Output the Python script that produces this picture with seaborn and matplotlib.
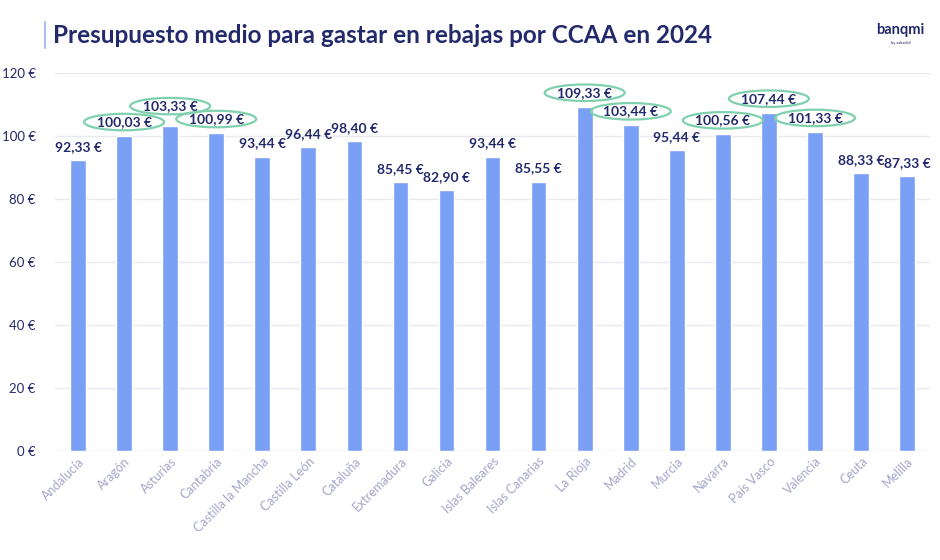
import matplotlib
matplotlib.use("Agg")
import matplotlib.pyplot as plt
from matplotlib.patches import Ellipse
from matplotlib.transforms import ScaledTranslation
import seaborn as sns
import pandas as pd

regions = ["Andalucía", "Aragón", "Asturias", "Cantabria", "Castilla la Mancha",
           "Castilla León", "Cataluña", "Extremadura", "Galicia", "Islas Baleares",
           "Islas Canarias", "La Rioja", "Madrid", "Murcia", "Navarra",
           "País Vasco", "Valencia", "Ceuta", "Melilla"]
budget = [92.33, 100.03, 103.33, 100.99, 93.44, 96.44, 98.40, 85.45, 82.90, 93.44,
          85.55, 109.33, 103.44, 95.44, 100.56, 107.44, 101.33, 88.33, 87.33]
highlighted = ["Aragón", "Asturias", "Cantabria", "La Rioja", "Madrid",
               "Navarra", "País Vasco", "Valencia"]
y_ticks = [0, 20, 40, 60, 80, 100, 120]
title = "Presupuesto medio para gastar en rebajas por CCAA en 2024"

NAVY = "#232a6b"
BAR = "#7aa0f6"
GREEN = "#7fd1ae"
GRID = "#e9e9f0"
XLAB = "#a3a6c9"

sns.set_theme(style="white")
plt.rcParams["font.family"] = ["Lato", "DejaVu Sans"]

df = pd.DataFrame({"region": regions, "budget": budget})

fig = plt.figure(figsize=(9.4, 5.6), dpi=100)
ax = fig.add_axes([0.0585, 0.1946, 0.931, 0.675])

sns.barplot(data=df, x="region", y="budget", color=BAR, saturation=1,
            width=0.34, ax=ax, zorder=3)

ax.set_ylim(0, 120)
ax.set_xlim(-0.5, len(regions) - 0.5)
ax.set_yticks(y_ticks)
ax.set_yticklabels([f"{t} €" for t in y_ticks], color=NAVY, fontsize=9.5)
ax.tick_params(axis="y", length=0, pad=14)
ax.tick_params(axis="x", length=0, pad=3)
ax.set_xticks(range(len(regions)))
ax.set_xticklabels(regions, rotation=45, ha="right", rotation_mode="anchor",
                   color=XLAB, fontsize=9)
ax.yaxis.grid(True, color=GRID, linewidth=1, zorder=0)
ax.set_axisbelow(True)
for s in ax.spines.values():
    s.set_visible(False)
ax.set_xlabel("")
ax.set_ylabel("")

extra = {"Asturias": 4}
for i, (r, v) in enumerate(zip(regions, budget)):
    label = f"{v:.2f}".replace(".", ",") + " €"
    off = 9.5 + extra.get(r, 0) + (0.5 if r in highlighted else 0)
    ax.annotate(label, (i, v), xytext=(0, off), textcoords="offset points",
                ha="center", va="center", fontsize=10, fontweight="bold",
                color=NAVY, zorder=5)
    if r in highlighted:
        tr = fig.dpi_scale_trans + ScaledTranslation(i, v, ax.transData)
        e = Ellipse((0, off / 72), width=0.80, height=0.165, transform=tr,
                    fc="none", ec=GREEN, lw=1.6, zorder=6)
        ax.add_artist(e)

fig.text(0.056, 0.937, title, fontsize=17.5, fontweight="bold", color=NAVY,
         ha="left", va="center")
fig.add_artist(plt.Line2D([0.048, 0.048], [0.915, 0.96], color="#a9c0f5", lw=1.5))
fig.text(0.958, 0.947, "banqmi", fontsize=10.5, fontweight="bold", color=NAVY,
         ha="center", va="center")
fig.text(0.958, 0.924, "by sabadell", fontsize=3, color=NAVY, ha="center", va="center")

fig.savefig("out.png", dpi=100, facecolor="white")
